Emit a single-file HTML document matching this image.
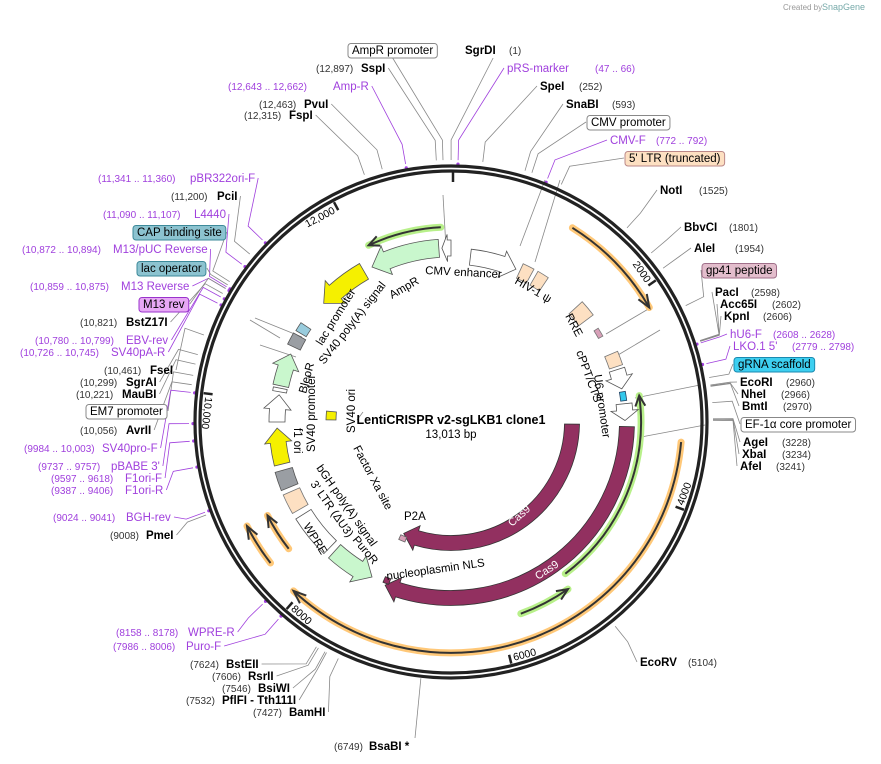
<!DOCTYPE html>
<html><head><meta charset="utf-8">
<style>
html,body{margin:0;padding:0;background:#fff;}
svg{display:block;font-family:"Liberation Sans",sans-serif;}
.b{font-weight:bold;font-size:11.5px;fill:#000}
.n{font-size:10px;fill:#333}
.p{font-size:11.5px;fill:#a040dd}
.pn{font-size:10px;fill:#a040dd}
.f{font-size:11.5px;fill:#000}
.w{font-size:11px;fill:#fff}
</style></head><body>
<svg id="s" width="881" height="764" viewBox="0 0 881 764" xmlns="http://www.w3.org/2000/svg">
<text x="783" y="10" style="font-size:8px;fill:#999">Created by</text>
<text x="822" y="10" style="font-size:9px;fill:#7aa">SnapGene</text>
<g id="lines" stroke="#888" stroke-width="0.8" fill="none"></g>
<g id="feat"></g>
<circle cx="451" cy="422" r="256" fill="none" stroke="#222" stroke-width="3.2"/>
<circle cx="451" cy="422" r="251" fill="none" stroke="#222" stroke-width="3.2"/>
<g id="ticks"></g>
<g id="labels"></g>
<text x="451" y="424" text-anchor="middle" style="font-weight:bold;font-size:12.5px">LentiCRISPR v2-sgLKB1 clone1</text>
<text x="451" y="438" text-anchor="middle" style="font-size:11.5px">13,013 bp</text>
</svg>
<script>
var NS="http://www.w3.org/2000/svg",S=document.getElementById('s');
var CX=451,CY=422,TOT=13013;
function el(t,a,p,txt){var e=document.createElementNS(NS,t);for(var k in a)e.setAttribute(k,a[k]);if(txt!=null)e.textContent=txt;(p||S).appendChild(e);return e;}
function pt(r,d){var a=d*Math.PI/180;return [CX+r*Math.sin(a),CY-r*Math.cos(a)];}
function bpd(b){return b/TOT*360;}
var F=document.getElementById('feat'),LB=document.getElementById('labels'),LN=document.getElementById('lines'),TK=document.getElementById('ticks');
function P(p){return p[0].toFixed(1)+' '+p[1].toFixed(1);}
function band(a1,a2,r,w,fill,stroke,head,sw){
  var h=head?Math.min((w*0.9)/r*180/Math.PI,(a2-a1)*0.6):0;
  var b1=a1,b2=a2;if(head=='e')b2=a2-h;if(head=='s')b1=a1+h;
  var ro=r+w/2,ri=r-w/2,hw=w*0.85,d='';
  var lg=(b2-b1)>180?1:0;
  if(head=='s'){d='M'+P(pt(r,a1))+' L'+P(pt(r+hw,b1))+' L'+P(pt(ro,b1));}
  else d='M'+P(pt(ro,b1));
  d+=' A'+ro+' '+ro+' 0 '+lg+' 1 '+P(pt(ro,b2));
  if(head=='e'){d+=' L'+P(pt(r+hw,b2))+' L'+P(pt(r,a2))+' L'+P(pt(r-hw,b2))+' L'+P(pt(ri,b2));}
  else d+=' L'+P(pt(ri,b2));
  d+=' A'+ri+' '+ri+' 0 '+lg+' 0 '+P(pt(ri,b1));
  if(head=='s')d+=' L'+P(pt(r-hw,b1))+' Z';else d+=' Z';
  el('path',{d:d,fill:fill,stroke:stroke||'#555','stroke-width':sw||0.8},F);
}
function thin(a1,a2,r,col,glow,head){
  var d='M'+P(pt(r,a1))+' A'+r+' '+r+' 0 0 1 '+P(pt(r,a2));
  el('path',{d:d,fill:'none',stroke:glow,'stroke-width':7,'stroke-linecap':'round'},F);
  el('path',{d:d,fill:'none',stroke:col,'stroke-width':2},F);
  var tip=head=='e'?a2:a1,back=head=='e'?a2-3.2:a1+3.2;
  var t=pt(r,tip),b1=pt(r+5,back),b2=pt(r-5,back);
  el('path',{d:'M'+P(b1)+' L'+P(t)+' L'+P(b2),fill:'none',stroke:col,'stroke-width':2},F);
}
thin(335,357,195,'#333','#b8f08a','s');
thin(32,60,229,'#333','#ffc878','e');
thin(95,223,231,'#333','#ffc878','e');
thin(232,243,229,'#333','#ffc878','e');
thin(232,243,206,'#333','#ffc878','e');
thin(82,143,190,'#333','#b8f08a','s');
thin(145,160,204,'#333','#b8f08a','s');
var WH='#fff',PE='#fde0c2',GR='#c9f7cd',YE='#f5f000',GY='#9a9ea3',CAS='#923060';
band(-3,0,174,16,WH,'#555','s');
band(6.7,23,166,16,WH,'#555','e');
band(24.5,28.5,166,16,PE,'#777');
band(30,34,166,16,PE,'#777');
band(47.5,53,169,18,PE,'#777');
band(57.5,60.5,172,5,'#d8a0b8','#777');
band(67,71.5,174,14,PE,'#777');
band(72.5,79,174,16,WH,'#555','e');
band(80,83,174,6,'#33c8ec','#246');
band(84,89.5,174,16,WH,'#555','e');
band(91.5,202,176,15,CAS,'#333','e');
band(91,203,121,15,CAS,'#333','e');
band(201,203,171,6,CAS,'#333');
band(201,204,126,5,'#d8a0b8','#666');
band(207,222,174,18,GR,'#555','s');
band(224,238,174,18,WH,'#555');
band(240,246.5,174,18,PE,'#777');
band(248,254,174,18,GY,'#555');
band(256,268,174,16,YE,'#555','e');
band(270,279,174,16,WH,'#555','e');
band(280,281.2,174,14,WH,'#555');
band(282,293,174,16,GR,'#555','e');
band(295.5,299.5,174,14,GY,'#555');
band(300.5,303.5,174,12,'#9cd','#555');
band(313,330,174,18,YE,'#555','s');
band(333,356,174,18,GR,'#555','s');
band(271,275,120,10,YE,'#555');
function rt(x,y,rot,txt,cls,anc){var e=el('text',{x:x,y:y,'class':cls||'f',transform:'rotate('+rot+' '+x+' '+y+')'},LB,txt);if(anc)e.setAttribute('text-anchor',anc);return e;}
rt(512,527,-42,'Cas9','w');rt(538,580,-33,'Cas9','w');
rt(425,274,3,'CMV enhancer');rt(392,299,-30,'AmpR');
rt(514,283,30,'HIV-1 ψ');rt(565,316,62,'RRE');rt(576,352,70,'cPPT/CTS');rt(594,375,82,'U6 promoter');
rt(322,346,-58,'lac promoter');rt(324,365,-52,'SV40 poly(A) signal');
rt(306,394,-75,'BleoR');rt(315,452,-90,'SV40 promoter');rt(294,428,90,'f1 ori');
rt(355,433,-90,'SV40 ori');rt(353,448,62,'Factor Xa site');
rt(316,468,55,'bGH poly(A) signal');rt(310,484,55,"3' LTR (ΔU3)");
rt(352,540,50,'PuroR');rt(303,526,58,'WPRE');
rt(404,520,0,'P2A');rt(387,580,-8,'nucleoplasmin NLS');
[[[446,248],[443,195]],[[520,246],[545,180]],[[535,262],[560,180]],[[606,334],[650,308]],[[618,355],[660,330]],[[635,398],[700,385]],[[641,437],[705,425]],[[280,338],[250,320]],[[302,337],[255,318]],[[296,357],[260,345]],[[357,420],[363,412]]].forEach(function(l){el('line',{x1:l[0][0],y1:l[0][1],x2:l[1][0],y2:l[1][1]},LN);});
[[2000,'2000'],[4000,'4000'],[6000,'6000'],[8000,'8000'],[10000,'10,000'],[12000,'12,000']].forEach(function(t){
  var d=bpd(t[0]),a=pt(249,d),b=pt(240,d);
  el('line',{x1:a[0],y1:a[1],x2:b[0],y2:b[1],stroke:'#222','stroke-width':2.5},TK);
  var top=(d<=90||d>=300);
  var rot,q,anc;
  if(top){rot=d>180?d-360:d;q=pt(239,d-0.8);anc='end';}
  else{rot=d-180;q=pt(247,d-0.8);anc='start';}
  el('text',{x:q[0].toFixed(1),y:q[1].toFixed(1),'font-size':'10.5px','text-anchor':anc,transform:'rotate('+rot.toFixed(1)+' '+q[0].toFixed(1)+' '+q[1].toFixed(1)+')'},TK,t[1]);
});
el('line',{x1:453,y1:171,x2:453,y2:182,stroke:'#222','stroke-width':2.5},TK);
function lab(side,y,parts,bp,col,boxd){
  var minx=1e9,maxx=-1e9;
  parts.forEach(function(p){var e=el('text',{x:p[0],y:y,'class':p[2]},LB,p[1]);var bb=e.getBBox();minx=Math.min(minx,bb.x);maxx=Math.max(maxx,bb.x+bb.width);});
  if(boxd){el('rect',{x:minx-4,y:y-10.5,width:maxx-minx+8,height:14.5,rx:3,fill:boxd[0],stroke:boxd[1]},LB).parentNode.insertBefore(LB.lastChild,LB.lastChild.previousSibling);}
  if(bp==null)return;
  var d=bpd(bp),e2=pt(262,d),sx=side=='L'?maxx+(boxd?5:3):minx-(boxd?5:3),sy=y-4;
  if(side=='T'){sx=(minx+maxx)/2;sy=y+4;}
  var m=pt(282,d);
  el('polyline',{points:sx+','+sy+' '+m[0].toFixed(1)+','+m[1].toFixed(1)+' '+e2[0].toFixed(1)+','+e2[1].toFixed(1),stroke:col||'#888'},LN);
  if(col){var dd=pt(258,d);el('circle',{cx:dd[0],cy:dd[1],r:1.6,fill:col,stroke:'none'},LN);}
}
var PU='#a040dd';
lab('T',54,[[352,'AmpR promoter','f']],12950,null,['#fff','#888']);
lab('T',54,[[465,'SgrDI','b'],[509,'(1)','n']],1);
lab('L',72,[[316,'(12,897)','n'],[361,'SspI','b']],12897);
lab('R',72,[[507,'pRS-marker','p'],[595,'(47 .. 66)','pn']],56,PU);
lab('L',90,[[228,'(12,643 .. 12,662)','pn'],[333,'Amp-R','p']],12652,PU);
lab('R',90,[[540,'SpeI','b'],[579,'(252)','n']],252);
lab('R',108,[[566,'SnaBI','b'],[612,'(593)','n']],593);
lab('L',108,[[259,'(12,463)','n'],[304,'PvuI','b']],12463);
lab('L',119,[[244,'(12,315)','n'],[289,'FspI','b']],12315);
lab('R',126,[[591,'CMV promoter','f']],650,null,['#fff','#888']);
lab('R',144,[[610,'CMV-F','p'],[656,'(772 .. 792)','pn']],782,PU);
lab('R',162,[[629,"5' LTR (truncated)",'f']],900,null,['#fde0c2','#b88']);
lab('R',194,[[660,'NotI','b'],[699,'(1525)','n']],1525);
lab('L',182,[[98,'(11,341 .. 11,360)','pn'],[190,'pBR322ori-F','p']],11350,PU);
lab('L',200,[[171,'(11,200)','n'],[217,'PciI','b']],11200);
lab('L',218,[[103,'(11,090 .. 11,107)','pn'],[194,'L4440','p']],11098,PU);
lab('L',236,[[137,'CAP binding site','f']],10930,null,['#8cc3d0','#3d8a9a']);
lab('R',231,[[684,'BbvCI','b'],[729,'(1801)','n']],1801);
lab('L',253,[[22,'(10,872 .. 10,894)','pn'],[113,'M13/pUC Reverse','p']],10883,PU);
lab('R',252,[[694,'AleI','b'],[735,'(1954)','n']],1954);
lab('L',272,[[141,'lac operator','f']],10900,null,['#8cc3d0','#3d8a9a']);
lab('R',274,[[706,'gp41 peptide','f']],2300,null,['#e3bdcc','#a0708a']);
lab('L',290,[[30,'(10,859 .. 10,875)','pn'],[121,'M13 Reverse','p']],10867,PU);
lab('R',296,[[715,'PacI','b'],[751,'(2598)','n']],2598);
lab('L',308,[[143,'M13 rev','f']],10867,null,['#e7a8f5','#9a33cc']);
lab('R',308,[[720,'Acc65I','b'],[772,'(2602)','n']],2602);
lab('R',320,[[724,'KpnI','b'],[763,'(2606)','n']],2606);
lab('L',326,[[80,'(10,821)','n'],[126,'BstZ17I','b']],10821);
lab('R',338,[[730,'hU6-F','p'],[773,'(2608 .. 2628)','pn']],2618,PU);
lab('L',344,[[35,'(10,780 .. 10,799)','pn'],[126,'EBV-rev','p']],10790,PU);
lab('R',350,[[733,"LKO.1 5'",'p'],[792,'(2779 .. 2798)','pn']],2788,PU);
lab('L',356,[[20,'(10,726 .. 10,745)','pn'],[111,'SV40pA-R','p']],10735,PU);
lab('R',368,[[738,'gRNA scaffold','f']],2900,null,['#3dcff0','#1a8ab0']);
lab('L',374,[[104,'(10,461)','n'],[150,'FseI','b']],10461);
lab('R',386,[[740,'EcoRI','b'],[786,'(2960)','n']],2960);
lab('L',386,[[80,'(10,299)','n'],[126,'SgrAI','b']],10299);
lab('R',398,[[741,'NheI','b'],[781,'(2966)','n']],2966);
lab('L',398,[[76,'(10,221)','n'],[122,'MauBI','b']],10221);
lab('R',410,[[742,'BmtI','b'],[783,'(2970)','n']],2970);
lab('L',415,[[90,'EM7 promoter','f']],10130,null,['#fff','#888']);
lab('R',428,[[745,'EF-1α core promoter','f']],3100,null,['#fff','#888']);
lab('L',434,[[80,'(10,056)','n'],[126,'AvrII','b']],10056);
lab('R',446,[[743,'AgeI','b'],[782,'(3228)','n']],3228);
lab('L',452,[[24,'(9984 .. 10,003)','pn'],[102,'SV40pro-F','p']],9994,PU);
lab('R',458,[[742,'XbaI','b'],[782,'(3234)','n']],3234);
lab('R',470,[[740,'AfeI','b'],[776,'(3241)','n']],3241);
lab('L',470,[[38,'(9737 .. 9757)','pn'],[111,"pBABE 3'",'p']],9747,PU);
lab('L',482,[[51,'(9597 .. 9618)','pn'],[125,'F1ori-F','p']],9607,PU);
lab('L',494,[[51,'(9387 .. 9406)','pn'],[125,'F1ori-R','p']],9396,PU);
lab('L',521,[[53,'(9024 .. 9041)','pn'],[126,'BGH-rev','p']],9032,PU);
lab('L',539,[[110,'(9008)','n'],[146,'PmeI','b']],9008);
lab('L',636,[[116,'(8158 .. 8178)','pn'],[188,'WPRE-R','p']],8168,PU);
lab('L',650,[[113,'(7986 .. 8006)','pn'],[186,'Puro-F','p']],7996,PU);
lab('L',668,[[190,'(7624)','n'],[226,'BstEII','b']],7624);
lab('R',666,[[640,'EcoRV','b'],[688,'(5104)','n']],5104);
lab('L',680,[[212,'(7606)','n'],[248,'RsrII','b']],7606);
lab('L',692,[[222,'(7546)','n'],[258,'BsiWI','b']],7546);
lab('L',704,[[186,'(7532)','n'],[222,'PflFI  - Tth111I','b']],7532);
lab('L',716,[[253,'(7427)','n'],[289,'BamHI','b']],7427);
lab('T',750,[[334,'(6749)','n'],[369,'BsaBI *','b']],null);
var q=pt(258,bpd(6749));el('line',{x1:415,y1:738,x2:q[0],y2:q[1]},LN);
</script>
</body></html>
